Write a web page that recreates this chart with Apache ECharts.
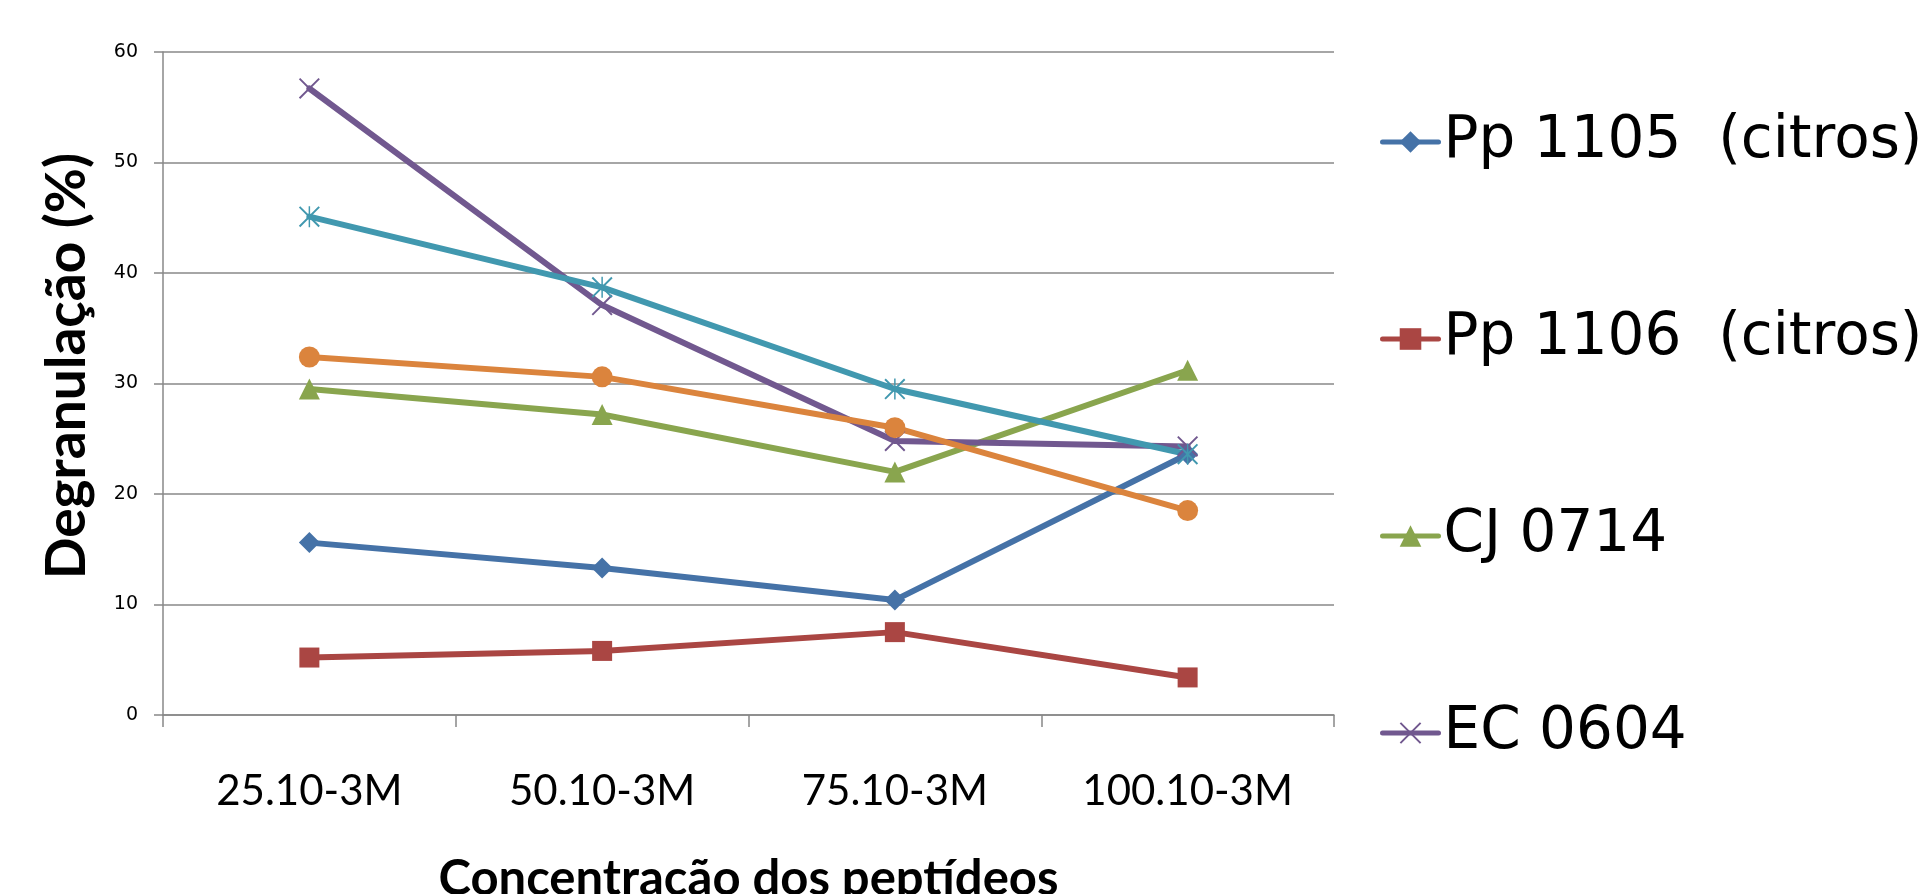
<!DOCTYPE html>
<html>
<head>
<meta charset="utf-8">
<script src="https://cdn.jsdelivr.net/npm/echarts@6/dist/echarts.min.js"></script>
<style>
html,body{margin:0;padding:0;background:#fff;}
#chart{width:1926px;height:894px;}
</style>
</head>
<body>
<div id="chart"></div>
<script>
const categories = ['25.10-3M', '50.10-3M', '75.10-3M', '100.10-3M'];
const pp1105 = [15.6, 13.3, 10.4, 23.6];
const pp1106 = [5.2, 5.8, 7.5, 3.4];
const cj0714 = [29.5, 27.2, 22.0, 31.2];
const ec0604 = [56.7, 37.1, 24.8, 24.3];
const serie5 = [45.1, 38.7, 29.5, 23.6];
const serie6 = [32.4, 30.6, 26.0, 18.5];
const seriesNames = ['Pp 1105  (citros)', 'Pp 1106  (citros)', 'CJ 0714', 'EC 0604', 'Série 5', 'Série 6'];
const legendNames = ['Pp 1105  (citros)', 'Pp 1106  (citros)', 'CJ 0714', 'EC 0604'];
const yTicks = { min: 0, max: 60, interval: 10 };
const xTitle = 'Concentração dos peptídeos';
const yTitle = 'Degranulação (%)';

const colors = ['#4572A7', '#AA4643', '#89A54E', '#71588F', '#4198AF', '#DB843D'];
const xPath = 'path://M0,1.3L1.3,0L20,18.7L18.7,20Z M18.7,0L20,1.3L1.3,20L0,18.7Z';
const starPath = 'path://M0,1.3L1.3,0L20,18.7L18.7,20Z M18.7,0L20,1.3L1.3,20L0,18.7Z M9.3,0L10.7,0L10.7,20L9.3,20Z';
const symbols = ['diamond', 'rect', 'triangle', xPath, starPath, 'circle'];
const symbolSizes = [21, 20, 21, 21, 21, 21];
const dataSets = [pp1105, pp1106, cj0714, ec0604, serie5, serie6];

const chart = echarts.init(document.getElementById('chart'));
const series = dataSets.map((d, i) => ({
  name: seriesNames[i],
  type: 'line',
  data: d,
  symbol: symbols[i],
  symbolSize: symbolSizes[i],
  showAllSymbol: true,
  lineStyle: { width: 6, color: colors[i], cap: 'round', join: 'round' },
  itemStyle: { color: colors[i] },
  emphasis: { disabled: true },
  animation: false
}));

chart.setOption({
  animation: false,
  color: colors,
  grid: { left: 163, right: 592, top: 52, bottom: 179, containLabel: false, outerBoundsMode: 'none' },
  legend: {
    data: legendNames,
    orient: 'vertical',
    left: 1375,
    top: 107,
    itemWidth: 56,
    itemHeight: 27,
    itemGap: 137,
    lineStyle: { width: 5, cap: 'round' },
    textStyle: { fontFamily: 'DejaVu Sans', fontSize: 58, color: '#000', lineHeight: 60 },
    selectedMode: false
  },
  graphic: [{
    type: 'text',
    left: 40,
    top: 153,
    rotation: Math.PI / 2,
    originX: 0,
    originY: 0,
    style: { text: yTitle, font: 'bold 55px Lato', fill: '#000' },
    silent: true
  }],
  xAxis: {
    type: 'category',
    data: categories,
    boundaryGap: true,
    name: xTitle,
    nameLocation: 'middle',
    nameGap: 140,
    nameTextStyle: { fontFamily: 'Lato', fontWeight: 'bold', fontSize: 49, color: '#000' },
    axisLine: { lineStyle: { color: '#888', width: 1.5 } },
    axisTick: { show: true, length: 12, alignWithLabel: false, lineStyle: { color: '#888', width: 1.5 } },
    axisLabel: { fontFamily: 'Lato', fontSize: 42, color: '#000', margin: 55, interval: 0 },
    splitLine: { show: false }
  },
  yAxis: {
    type: 'value',
    min: yTicks.min,
    max: yTicks.max,
    interval: yTicks.interval,
    axisLine: { show: true, lineStyle: { color: '#888', width: 1.5 } },
    axisTick: { show: true, length: 9, lineStyle: { color: '#888', width: 1.5 } },
    axisLabel: { fontFamily: 'DejaVu Sans', fontSize: 19, color: '#000', margin: 25 },
    splitLine: { show: true, lineStyle: { color: '#888', width: 1.5 } }
  },
  series: series
});
</script>
</body>
</html>
